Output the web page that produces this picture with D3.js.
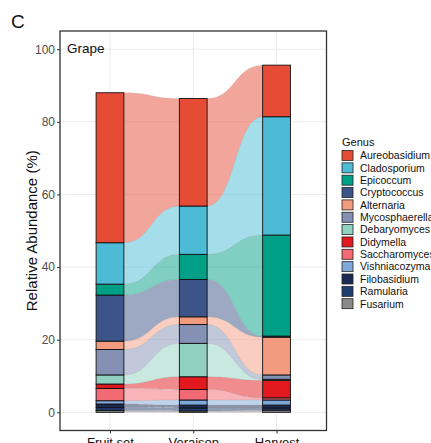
<!DOCTYPE html>
<html>
<head>
<meta charset="utf-8">
<script src="https://cdn.jsdelivr.net/npm/d3@7"></script>
<style>
  body { margin: 0; background: #fff; }
  text { font-family: "Liberation Sans", Arial, sans-serif; }
</style>
</head>
<body>
<script>
var stages   = ["Fruit set", "Veraison", "Harvest"];
var genera   = ["Aureobasidium", "Cladosporium", "Epicoccum", "Cryptococcus", "Alternaria",
                "Mycosphaerella", "Debaryomyces", "Didymella", "Saccharomyces", "Vishniacozyma",
                "Filobasidium", "Ramularia", "Fusarium"];
var colors   = ["#E64B35", "#4DBBD5", "#00A087", "#3C5488", "#F39B7F",
                "#8491B4", "#91D1C2", "#E2191E", "#F16A74", "#7FA8DC",
                "#1B2A54", "#1F3D6E", "#8A8A8A"];
// values in legend order (top of stack first)
var fruitSet = [41.3, 11.4, 3.0, 12.7, 2.3, 7.0, 2.5, 1.2, 3.4, 0.9, 1.0, 0.8, 0.5];
var veraison = [29.6, 13.3, 6.9, 10.3, 2.1, 5.2, 9.2, 3.5, 2.9, 1.4, 0.8, 0.8, 0.4];
var harvest  = [14.2, 32.6, 27.8, 0.3, 10.4, 1.2, 0.3, 4.8, 0.6, 1.4, 0.8, 0.6, 0.6];
var yTicks   = [0, 20, 40, 60, 80, 100];

var width  = 431,
    height = 443;
var panel  = {left: 60, top: 31, right: 326.5, bottom: 430.5};

var svg = d3.select("body")
    .append("svg")
    .attr("width", width)
    .attr("height", height);

// x: discrete with ggplot 0.6 expansion
var unit = (panel.right - panel.left) / 3.2;
var x = d3.scaleOrdinal()
    .domain(stages)
    .range(stages.map(function (d, i) { return panel.left + (0.6 + i) * unit; }));
var barW = unit / 3;

var y = d3.scaleLinear()
    .domain([-5, 105])
    .range([panel.bottom, panel.top]);

var color = d3.scaleOrdinal().domain(genera).range(colors);

// build stacked table: one row per stage
var table = stages.map(function (s, i) {
    var vals = [fruitSet, veraison, harvest][i];
    var row = {stage: s};
    genera.forEach(function (g, j) { row[g] = vals[j]; });
    return row;
});
var stack = d3.stack().keys(genera.slice().reverse());
var series = stack(table);

// grid
var grid = svg.append("g");
grid.selectAll("line.h")
    .data(yTicks)
    .enter()
    .append("line")
    .attr("x1", panel.left).attr("x2", panel.right)
    .attr("y1", function (d) { return y(d); })
    .attr("y2", function (d) { return y(d); })
    .attr("stroke", "#EBEBEB")
    .attr("stroke-width", 1);
grid.selectAll("line.v")
    .data(stages)
    .enter()
    .append("line")
    .attr("y1", panel.top).attr("y2", panel.bottom)
    .attr("x1", function (d) { return x(d); })
    .attr("x2", function (d) { return x(d); })
    .attr("stroke", "#EBEBEB")
    .attr("stroke-width", 1);

// flows
function flowPath(a, b, s0, s1) {
    var x0 = x(s0) + barW / 2,
        x1 = x(s1) - barW / 2,
        xm = (x0 + x1) / 2;
    return "M" + x0 + "," + y(a[1]) +
        "C" + xm + "," + y(a[1]) + " " + xm + "," + y(b[1]) + " " + x1 + "," + y(b[1]) +
        "L" + x1 + "," + y(b[0]) +
        "C" + xm + "," + y(b[0]) + " " + xm + "," + y(a[0]) + " " + x0 + "," + y(a[0]) + "Z";
}

var flows = svg.append("g").attr("class", "flows");
series.forEach(function (ser) {
    for (var i = 0; i < stages.length - 1; i++) {
        flows.append("path")
            .attr("d", flowPath(ser[i], ser[i + 1], stages[i], stages[i + 1]))
            .attr("fill", color(ser.key))
            .attr("fill-opacity", 0.5)
            .attr("stroke", "#9a9a9a")
            .attr("stroke-opacity", 0.25)
            .attr("stroke-width", 0.6);
    }
});

// bars
var bars = svg.append("g").attr("class", "bars");
series.forEach(function (ser) {
    bars.selectAll(null)
        .data(ser)
        .enter()
        .append("rect")
        .attr("x", function (d) { return x(d.data.stage) - barW / 2; })
        .attr("y", function (d) { return y(d[1]); })
        .attr("width", barW)
        .attr("height", function (d) { return y(d[0]) - y(d[1]); })
        .attr("fill", color(ser.key))
        .attr("stroke", "#111")
        .attr("stroke-width", 0.9);
});

// panel border
svg.append("rect")
    .attr("x", panel.left).attr("y", panel.top)
    .attr("width", panel.right - panel.left)
    .attr("height", panel.bottom - panel.top)
    .attr("fill", "none")
    .attr("stroke", "#333")
    .attr("stroke-width", 1.3);

// axes
var yAxis = svg.append("g")
    .attr("transform", "translate(" + panel.left + ",0)")
    .call(d3.axisLeft(y).tickValues(yTicks).tickSize(3).tickPadding(2));
yAxis.select(".domain").remove();
yAxis.selectAll("line").attr("stroke", "#333");
yAxis.selectAll("text")
    .attr("fill", "#4D4D4D")
    .style("font-size", "12px")
    .style("font-family", "Liberation Sans, Arial, sans-serif");

var xAxis = svg.append("g")
    .attr("transform", "translate(0," + panel.bottom + ")")
    .call(d3.axisBottom(x).tickSize(3).tickPadding(2));
xAxis.select(".domain").remove();
xAxis.selectAll("line").attr("stroke", "#333");
xAxis.selectAll("text")
    .attr("fill", "#111")
    .attr("dy", "0.85em")
    .style("font-size", "13px")
    .style("font-family", "Liberation Sans, Arial, sans-serif");

svg.append("text")
    .attr("transform", "translate(37," + ((y(0) + y(100)) / 2) + ") rotate(-90)")
    .attr("text-anchor", "middle")
    .style("font-size", "15px")
    .attr("fill", "#111")
    .text("Relative Abundance (%)");

svg.append("text")
    .attr("x", 67).attr("y", 53)
    .style("font-size", "13.5px")
    .attr("fill", "#111")
    .text("Grape");

svg.append("text")
    .attr("x", 11).attr("y", 27.5)
    .style("font-size", "19px")
    .attr("fill", "#111")
    .text("C");

// legend
var legend = svg.append("g").attr("transform", "translate(342,0)");
legend.append("text")
    .attr("x", 0).attr("y", 146)
    .style("font-size", "11px")
    .attr("fill", "#111")
    .text("Genus");
var item = legend.selectAll("g.item")
    .data(genera)
    .enter()
    .append("g")
    .attr("transform", function (d, i) { return "translate(0," + (150.5 + i * 12.35) + ")"; });
item.append("rect")
    .attr("width", 11)
    .attr("height", 10)
    .attr("fill", function (d) { return color(d); })
    .attr("stroke", "#222")
    .attr("stroke-width", 0.8);
item.append("text")
    .attr("x", 18).attr("y", 8.8)
    .style("font-size", "10.5px")
    .attr("fill", "#111")
    .text(function (d) { return d; });
</script>
</body>
</html>
